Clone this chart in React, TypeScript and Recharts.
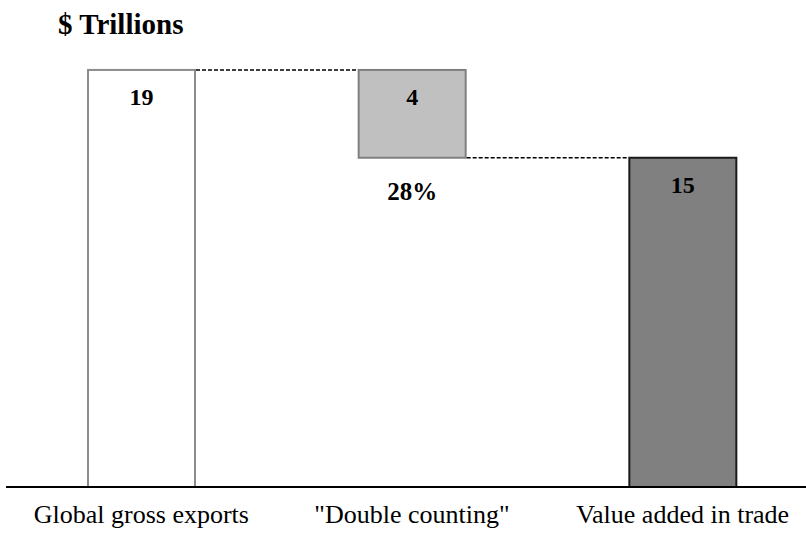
import React from 'react';
import { BarChart, Bar, XAxis, YAxis, LabelList } from 'recharts';

const categories = ['Global gross exports', '"Double counting"', 'Value added in trade'];
const values = [19, 4, 15];
const shareLabels = ['', '28%', ''];
const fills = ['#FFFFFF', '#C0C0C0', '#808080'];
const strokes = ['#8C8C8C', '#808080', '#1A1A1A'];
// where the dashed connector leaves each bar: top edge, bottom edge, none
const connectorEdge = ['top', 'bottom', null];

// the middle bar floats: it starts where the last bar ends
const bases = [0, values[0] - values[1], 0];

const data = categories.map((name, i) => ({
  name,
  base: bases[i],
  value: values[i],
  share: shareLabels[i],
}));

const CHART_W = 820;
const CHART_H = 534;
const MARGIN = { top: 48, right: 2, bottom: 0, left: 6 };
const STEP = (CHART_W - MARGIN.left - MARGIN.right) / categories.length;

const serif = '"Liberation Serif", "Times New Roman", serif';

const WaterfallBar = (props: any) => {
  const { x, y, width, height, index } = props;
  const edge = connectorEdge[index];
  const ly = edge === 'top' ? y : y + height;
  return (
    <g>
      <rect x={x} y={y} width={width} height={height} fill={fills[index]} stroke={strokes[index]} strokeWidth={2} />
      {edge && (
        <line x1={x + width + 1} y1={ly} x2={x + STEP - 1} y2={ly} stroke="#000" strokeWidth={1.5} strokeDasharray="4 2" />
      )}
    </g>
  );
};

const ValueLabel = (props: any) => {
  const { x, y, width, value } = props;
  return (
    <text x={x + width / 2} y={y + 35} textAnchor="middle" fontFamily={serif} fontWeight="bold" fontSize={24} fill="#000">
      {value}
    </text>
  );
};

const ShareLabel = (props: any) => {
  const { x, y, width, height, value } = props;
  if (!value) return null;
  return (
    <text x={x + width / 2} y={y + height + 42} textAnchor="middle" fontFamily={serif} fontWeight="bold" fontSize={25} fill="#000">
      {value}
    </text>
  );
};

const CategoryTick = (props: any) => {
  const { x, y, payload } = props;
  return (
    <text x={x} y={y + 36} textAnchor="middle" fontFamily={serif} fontSize={26} fill="#000">
      {payload.value}
    </text>
  );
};

const App: React.FC = () => {
  return (
    <div style={{ position: 'absolute', left: 0, top: 0, width: 806, height: 534, overflow: 'hidden', background: '#fff' }}>
      <div
        style={{
          position: 'absolute',
          left: 58,
          top: 10,
          fontFamily: serif,
          fontWeight: 'bold',
          fontSize: 29,
          lineHeight: 1,
          color: '#000',
          zIndex: 2,
        }}
      >
        $ Trillions
      </div>
      <BarChart width={CHART_W} height={CHART_H} data={data} margin={MARGIN}>
        <XAxis
          dataKey="name"
          height={47}
          tickLine={false}
          tickSize={0}
          tickMargin={0}
          axisLine={{ stroke: '#000', strokeWidth: 2 }}
          tick={<CategoryTick />}
          interval={0}
        />
        <YAxis hide domain={[0, 20]} />
        <Bar dataKey="base" stackId="a" fill="transparent" barSize={107} isAnimationActive={false} />
        <Bar dataKey="value" stackId="a" barSize={107} shape={<WaterfallBar />} isAnimationActive={false}>
          <LabelList dataKey="value" content={<ValueLabel />} />
          <LabelList dataKey="share" content={<ShareLabel />} />
        </Bar>
      </BarChart>
    </div>
  );
};

export default App;
